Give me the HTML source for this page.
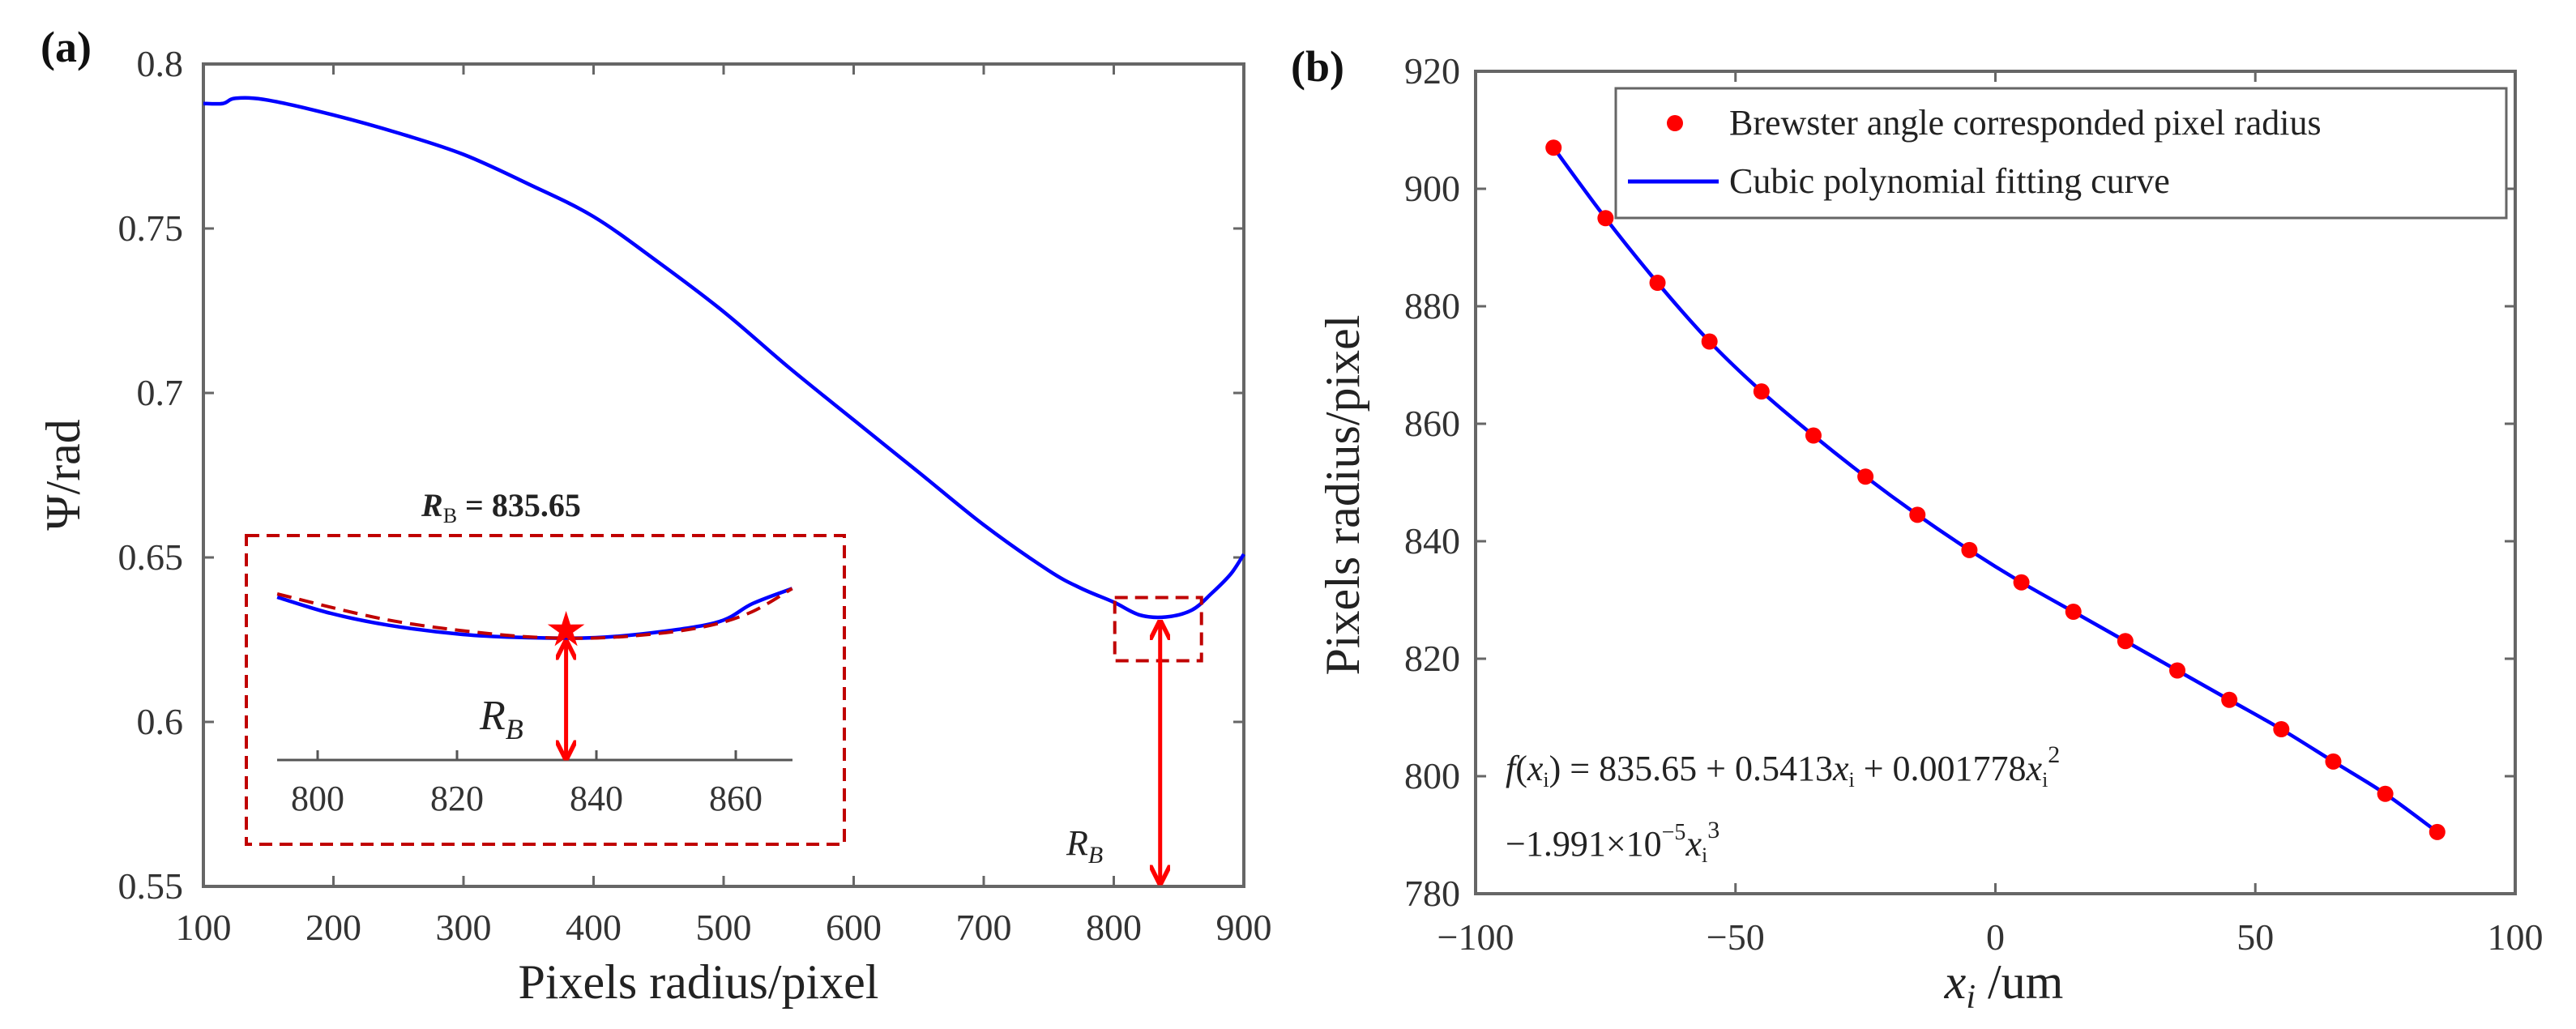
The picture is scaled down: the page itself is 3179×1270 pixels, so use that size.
<!DOCTYPE html>
<html><head><meta charset="utf-8"><style>
html,body{margin:0;padding:0;background:#fff}
svg{display:block;font-family:"Liberation Serif",serif}
</style></head><body>
<svg id="fig" width="3179" height="1270" viewBox="0 0 3179 1270" xmlns="http://www.w3.org/2000/svg">
<defs>
<marker id="ah" viewBox="0 0 10 10" refX="9" refY="5" markerWidth="5" markerHeight="5" orient="auto-start-reverse"><path d="M0,0 L10,5 L0,10" fill="none" stroke="#f00" stroke-width="2.2"/></marker>
</defs>
<g id="pa"></g>
<g id="pb"></g>
</svg>
<script>
// Panel (a) data
const aX = [100,115,125,150,200,250,300,350,400,450,500,550,600,650,700,750,775,800,820,840,860,875,890,900];
const aY = [0.788,0.788,0.7896,0.789,0.7845,0.779,0.7725,0.7635,0.7536,0.7397,0.7247,0.7078,0.6918,0.6759,0.6599,0.646,0.6406,0.6364,0.6325,0.6319,0.634,0.639,0.645,0.651];
const aXTicks = [100,200,300,400,500,600,700,800,900];
const aYTicks = [0.55,0.6,0.65,0.7,0.75,0.8];
const aYTickLabels = ["0.55","0.6","0.65","0.7","0.75","0.8"];
const insetX = [794.2,801.9,810.2,820.8,830.3,839.9,849.3,857.7,862.4,868.1];
const insetY = [0.6394,0.6364,0.6342,0.6325,0.6319,0.6319,0.633,0.6349,0.6382,0.641];
const insetFitX = [794.2,810,825,835.65,845,855,862,868.1];
const insetFitY = [0.6400,0.6352,0.6326,0.6318,0.6322,0.6338,0.6365,0.641];
const insetTicks = [800,820,840,860];
const rB = 835.65;
// Panel (b) data
const bX = [-85,-75,-65,-55,-45,-35,-25,-15,-5,5,15,25,35,45,55,65,75,85];
const bY = [907,895,884,874,865.5,858,851,844.5,838.5,833,828,823,818,813,808,802.5,797,790.5];
const bXTicks = [-100,-50,0,50,100];
const bXTickLabels = ["\u2212100","\u221250","0","50","100"];
const bYTicks = [780,800,820,840,860,880,900,920];

const NS="http://www.w3.org/2000/svg";
function mk(parent,tag,attrs,text){const e=document.createElementNS(NS,tag);for(const k in attrs)e.setAttribute(k,attrs[k]);if(text!==undefined)e.textContent=text;parent.appendChild(e);return e;}
function lin(d0,d1,r0,r1){return v=>r0+(v-d0)/(d1-d0)*(r1-r0);}
function smooth(pts){let d="M"+pts[0][0]+","+pts[0][1];for(let i=0;i<pts.length-1;i++){const p0=pts[Math.max(0,i-1)],p1=pts[i],p2=pts[i+1],p3=pts[Math.min(pts.length-1,i+2)];const c1=[p1[0]+(p2[0]-p0[0])/6,p1[1]+(p2[1]-p0[1])/6],c2=[p2[0]-(p3[0]-p1[0])/6,p2[1]-(p3[1]-p1[1])/6];d+=" C"+c1[0]+","+c1[1]+" "+c2[0]+","+c2[1]+" "+p2[0]+","+p2[1];}return d;}

// ---------- Panel A ----------
const pa=document.getElementById('pa');
const ax=lin(100,900,251,1535), ay=lin(0.55,0.8,1094,79);
let e;
e=mk(pa,'rect',{x:251,y:79,width:1284,height:1015,fill:'none',stroke:'#666','stroke-width':4});


aXTicks.forEach((t,i)=>{
  e=mk(pa,'path',{d:`M${ax(t)},1094v-13M${ax(t)},79v13`,stroke:'#666','stroke-width':3});
  
  
  e=mk(pa,'text',{x:ax(t),y:1160,'font-size':46,fill:'#333','text-anchor':'middle'},String(t));
  
  
});
aYTicks.forEach((t,i)=>{
  e=mk(pa,'path',{d:`M251,${ay(t)}h13M1535,${ay(t)}h-13`,stroke:'#666','stroke-width':3});
  
  
  e=mk(pa,'text',{x:226,y:ay(t)+15,'font-size':46,fill:'#333','text-anchor':'end'},aYTickLabels[i]);
  
  
});
e=mk(pa,'path',{d:smooth(aX.map((x,i)=>[ax(x),ay(aY[i])])),fill:'none',stroke:'#00f','stroke-width':4.5});


// zoom box on main
e=mk(pa,'rect',{x:ax(rB)-56,y:ay(0.6319)-24,width:107,height:78,fill:'none',stroke:'#c00000','stroke-width':4,'stroke-dasharray':'16 9'});


e=mk(pa,'line',{x1:ax(rB),y1:ay(0.6319)+6,x2:ax(rB),y2:1090,stroke:'#f00','stroke-width':5,'marker-start':'url(#ah)','marker-end':'url(#ah)'});


e=mk(pa,'text',{x:1316,y:1055,'font-size':44,'font-style':'italic',fill:'#222'},'R');


mk(e,'tspan',{'font-size':30,dy:10},'B');
// inset
const ix=lin(800,860,392,908), iy=lin(0.6319,0.6364,787,757);
e=mk(pa,'rect',{x:304,y:661,width:738,height:381,fill:'#fff',stroke:'#c00000','stroke-width':4,'stroke-dasharray':'16 9'});


e=mk(pa,'line',{x1:342,y1:938,x2:978,y2:938,stroke:'#555','stroke-width':3});


insetTicks.forEach(t=>{
  e=mk(pa,'line',{x1:ix(t),y1:938,x2:ix(t),y2:926,stroke:'#555','stroke-width':3});
  
  
  e=mk(pa,'text',{x:ix(t),y:1000,'font-size':44,fill:'#333','text-anchor':'middle'},String(t));
  
  
});
e=mk(pa,'path',{d:smooth(insetX.map((x,i)=>[ix(x),iy(insetY[i])])),fill:'none',stroke:'#00f','stroke-width':4.5});


e=mk(pa,'path',{d:smooth(insetFitX.map((x,i)=>[ix(x),iy(insetFitY[i])])),fill:'none',stroke:'#c00000','stroke-width':4,'stroke-dasharray':'18 10'});


const sx=ix(rB), sy=iy(0.6319)-9;
let sp=[];for(let k=0;k<10;k++){const r=k%2?9:24,a=-Math.PI/2+k*Math.PI/5;sp.push((sx+r*Math.cos(a)).toFixed(1)+","+(sy+r*Math.sin(a)).toFixed(1));}
e=mk(pa,'polygon',{points:sp.join(' '),fill:'#f00'});


e=mk(pa,'line',{x1:sx,y1:sy+14,x2:sx,y2:936,stroke:'#f00','stroke-width':5,'marker-start':'url(#ah)','marker-end':'url(#ah)'});


e=mk(pa,'text',{x:592,y:900,'font-size':52,'font-style':'italic',fill:'#222'},'R');


mk(e,'tspan',{'font-size':36,dy:12},'B');
e=mk(pa,'text',{x:520,y:637,'font-size':40,'font-weight':'bold',fill:'#222'},'');


mk(e,'tspan',{'font-style':'italic'},'R');
mk(e,'tspan',{'font-size':26,dy:8,'font-weight':'normal'},'B');
mk(e,'tspan',{dy:-8},' = 835.65');
e=mk(pa,'text',{x:862,y:1232,'font-size':60,fill:'#222','text-anchor':'middle'},'Pixels radius/pixel');


e=mk(pa,'text',{x:0,y:0,'font-size':60,fill:'#222','text-anchor':'middle',transform:'translate(98,586) rotate(-90)'},'\u03A8/rad');


e=mk(pa,'text',{x:50,y:76,'font-size':54,'font-weight':'bold',fill:'#111'},'(a)');



// ---------- Panel B ----------
const pb=document.getElementById('pb');
const bx=lin(-100,100,1821,3104), by=lin(780,920,1103,88);
e=mk(pb,'rect',{x:1821,y:88,width:1283,height:1015,fill:'none',stroke:'#666','stroke-width':4});


bXTicks.forEach((t,i)=>{
  e=mk(pb,'path',{d:`M${bx(t)},1103v-13M${bx(t)},88v13`,stroke:'#666','stroke-width':3});
  
  
  e=mk(pb,'text',{x:bx(t),y:1172,'font-size':46,fill:'#333','text-anchor':'middle'},bXTickLabels[i]);
  
  
});
bYTicks.forEach(t=>{
  e=mk(pb,'path',{d:`M1821,${by(t)}h13M3104,${by(t)}h-13`,stroke:'#666','stroke-width':3});
  
  
  e=mk(pb,'text',{x:1802,y:by(t)+15,'font-size':46,fill:'#333','text-anchor':'end'},String(t));
  
  
});
e=mk(pb,'path',{d:smooth(bX.map((x,i)=>[bx(x),by(bY[i])])),fill:'none',stroke:'#00f','stroke-width':4.5});


bX.forEach((x,i)=>{
  e=mk(pb,'circle',{cx:bx(x),cy:by(bY[i]),r:10,fill:'#f00'});
  
  
});
// legend
e=mk(pb,'rect',{x:1994,y:109,width:1099,height:160,fill:'#fff',stroke:'#666','stroke-width':3});


e=mk(pb,'circle',{cx:2067,cy:152,r:10,fill:'#f00'});


e=mk(pb,'text',{x:2134,y:166,'font-size':44,fill:'#222'},'Brewster angle corresponded pixel radius');


e=mk(pb,'line',{x1:2009,y1:224,x2:2121,y2:224,stroke:'#00f','stroke-width':5});


e=mk(pb,'text',{x:2134,y:238,'font-size':44,fill:'#222'},'Cubic polynomial fitting curve');


// formula
e=mk(pb,'text',{x:1858,y:963,'font-size':44,fill:'#222'},'');


mk(e,'tspan',{'font-style':'italic'},'f');mk(e,'tspan',{},'(');mk(e,'tspan',{'font-style':'italic'},'x');mk(e,'tspan',{'font-size':26,dy:8},'i');mk(e,'tspan',{dy:-8},') = 835.65 + 0.5413');mk(e,'tspan',{'font-style':'italic'},'x');mk(e,'tspan',{'font-size':26,dy:8},'i');mk(e,'tspan',{dy:-8},' + 0.001778');mk(e,'tspan',{'font-style':'italic'},'x');mk(e,'tspan',{'font-size':26,dy:8},'i');mk(e,'tspan',{'font-size':30,dy:-30},'2');
e=mk(pb,'text',{x:1858,y:1056,'font-size':44,fill:'#222'},'');


mk(e,'tspan',{},'\u22121.991\u00D710');mk(e,'tspan',{'font-size':28,dy:-20},'\u22125');mk(e,'tspan',{'font-style':'italic',dy:20},'x');mk(e,'tspan',{'font-size':26,dy:8},'i');mk(e,'tspan',{'font-size':30,dy:-30},'3');
e=mk(pb,'text',{x:2473,y:1232,'font-size':60,fill:'#222','text-anchor':'middle'},'');


mk(e,'tspan',{'font-style':'italic'},'x');mk(e,'tspan',{'font-style':'italic','font-size':42,dy:12},'i');mk(e,'tspan',{dy:-12},' /um');
e=mk(pb,'text',{x:0,y:0,'font-size':60,fill:'#222','text-anchor':'middle',transform:'translate(1677,611) rotate(-90)'},'Pixels radius/pixel');


e=mk(pb,'text',{x:1593,y:100,'font-size':54,'font-weight':'bold',fill:'#111'},'(b)');


</script>
</body></html>
